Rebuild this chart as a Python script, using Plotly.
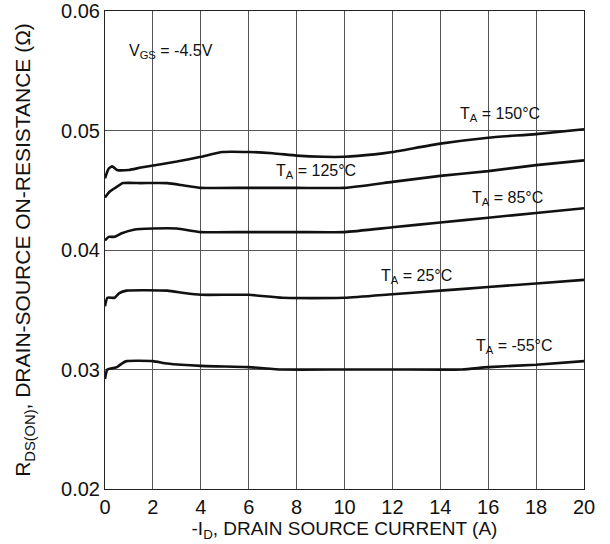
import plotly.graph_objects as go

# Drain current (A) sample points per temperature curve
x_150 = [0, 0.15, 0.3, 0.5, 1.0, 1.5, 2.4, 3.0, 4.0, 4.9, 6.0, 7.0, 8.0, 9.1, 10.0, 11.25, 12.0, 14.0, 16.0, 18.0, 20.0]
r_150 = [0.0460, 0.0468, 0.0470, 0.0467, 0.0467, 0.0469, 0.0472, 0.0474, 0.0478, 0.0482, 0.0482, 0.0481, 0.0479, 0.0478, 0.0478, 0.0480, 0.0482, 0.0489, 0.0494, 0.0497, 0.0501]

x_125 = [0, 0.2, 0.5, 0.75, 1.5, 2.6, 3.3, 4.0, 6.0, 8.0, 10.0, 12.0, 14.0, 16.0, 18.0, 20.0]
r_125 = [0.0444, 0.0449, 0.0453, 0.0456, 0.0456, 0.0456, 0.0454, 0.0452, 0.0452, 0.0452, 0.0452, 0.0457, 0.0462, 0.0466, 0.0471, 0.0475]

x_85 = [0, 0.15, 0.4, 0.7, 1.2, 2.0, 3.0, 4.0, 6.0, 8.0, 10.0, 12.0, 14.0, 16.0, 18.0, 20.0]
r_85 = [0.0408, 0.0411, 0.0411, 0.0414, 0.0417, 0.0418, 0.0418, 0.0415, 0.0415, 0.0415, 0.0415, 0.0419, 0.0423, 0.0427, 0.0431, 0.0435]

x_25 = [0, 0.1, 0.4, 0.6, 0.9, 2.6, 3.3, 4.0, 6.0, 7.4, 10.0, 12.0, 14.0, 16.0, 18.0, 20.0]
r_25 = [0.0353, 0.0360, 0.0360, 0.0364, 0.0366, 0.0366, 0.0364, 0.03625, 0.03625, 0.0360, 0.0360, 0.0363, 0.0366, 0.0369, 0.0372, 0.0375]

x_m55 = [0, 0.1, 0.5, 0.7, 0.9, 2.0, 2.6, 4.0, 6.0, 7.4, 10.0, 12.0, 14.9, 16.0, 18.0, 20.0]
r_m55 = [0.0292, 0.0300, 0.0302, 0.0305, 0.0307, 0.0307, 0.0305, 0.0303, 0.0302, 0.0300, 0.0300, 0.0300, 0.0300, 0.0302, 0.0304, 0.0307]

x_ticks = [0, 2, 4, 6, 8, 10, 12, 14, 16, 18, 20]
y_ticks = [0.02, 0.03, 0.04, 0.05, 0.06]
y_tick_text = ["0.02", "0.03", "0.04", "0.05", "0.06"]

# Curve labels: (text, x, y)
curve_labels = [
    ("T<sub>A</sub> = 150°C", 16.5, 0.0513),
    ("T<sub>A</sub> = 125°C", 8.8, 0.0466),
    ("T<sub>A</sub> = 85°C", 16.8, 0.0443),
    ("T<sub>A</sub> = 25°C", 13.0, 0.0378),
    ("T<sub>A</sub> = -55°C", 17.1, 0.0319),
]
condition_label = ("V<sub>GS</sub> = -4.5V", 0.9, 0.0566)

FONT = "Liberation Sans, Arial, sans-serif"

fig = go.Figure()
for xs, ys in [(x_150, r_150), (x_125, r_125), (x_85, r_85), (x_25, r_25), (x_m55, r_m55)]:
    fig.add_trace(go.Scatter(x=xs, y=ys, mode="lines",
                             line=dict(color="#111111", width=2.6, shape="spline", smoothing=0.5),
                             showlegend=False, hoverinfo="skip"))

for text, x, y in curve_labels:
    fig.add_annotation(x=x, y=y, text=text, showarrow=False,
                       font=dict(family=FONT, size=16, color="#111111"),
                       xanchor="center", yanchor="middle")

fig.add_annotation(x=condition_label[1], y=condition_label[2], text=condition_label[0],
                   showarrow=False, font=dict(family=FONT, size=16, color="#111111"),
                   xanchor="left", yanchor="middle")

fig.update_xaxes(range=[0, 20], tickvals=x_ticks, ticks="", showgrid=True,
                 gridcolor="#555555", gridwidth=1, showline=True, linecolor="#222222",
                 linewidth=1, mirror=True, zeroline=False, ticklabeloverflow="allow",
                 tickfont=dict(family=FONT, size=20, color="#111111"),
                 title=dict(text="-I<sub>D</sub>, DRAIN SOURCE CURRENT (A)",
                            font=dict(family=FONT, size=19, color="#111111"), standoff=4))
fig.update_yaxes(range=[0.02, 0.06], tickvals=y_ticks, ticktext=y_tick_text, ticks="",
                 showgrid=True, gridcolor="#555555", gridwidth=1, showline=True,
                 linecolor="#222222", linewidth=1, mirror=True, zeroline=False,
                 ticklabeloverflow="allow",
                 tickfont=dict(family=FONT, size=20, color="#111111"),
                 title=dict(text="R<sub>DS(ON)</sub>, DRAIN-SOURCE ON-RESISTANCE (Ω)",
                            font=dict(family=FONT, size=21, color="#111111"), standoff=24))

fig.update_layout(width=610, height=544, margin=dict(l=105, r=26, t=11, b=55, autoexpand=False),
                  plot_bgcolor="white", paper_bgcolor="white")

fig.write_html("out.html")
